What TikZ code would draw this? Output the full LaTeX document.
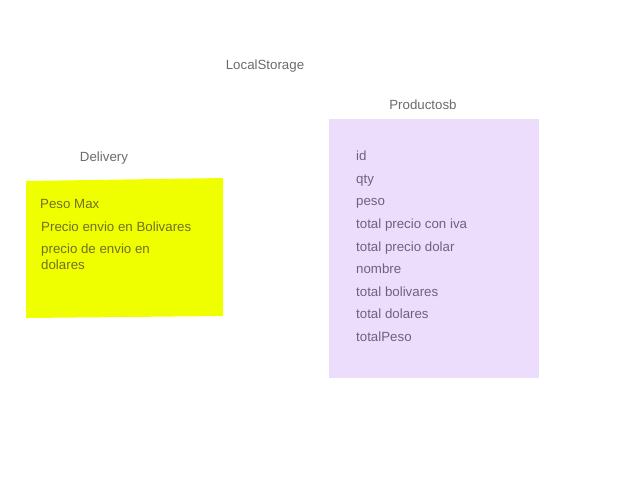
\documentclass[tikz,border=0pt]{standalone}
\usepackage{fontspec}
\setmainfont{Liberation Sans}
\definecolor{labelgray}{HTML}{6B6B6B}
\definecolor{stickyyellow}{HTML}{F0FF00}
\definecolor{stickytext}{HTML}{707022}
\definecolor{lilac}{HTML}{ECDDFC}
\definecolor{lilactext}{HTML}{6E6280}

\begin{document}
\begin{tikzpicture}[x=1pt, y=-1pt,
  title/.style = {labelgray, anchor=base, font=\fontsize{13.3}{16}\selectfont},
  yellowitem/.style = {stickytext, anchor=base west, align=left, font=\fontsize{13.3}{16}\selectfont},
  lilacitem/.style = {lilactext, anchor=base west, font=\fontsize{13.3}{16}\selectfont},
  every node/.style = {inner sep=0pt},
  ]
  \useasboundingbox (0,0) rectangle (640,480);
  \node[title] (local) at (265,69) {LocalStorage};
  \node[title] (delivery) at (104,161) {Delivery};
  \node[title] (productos) at (423,109) {Productosb};

  % delivery sticky
  \fill[stickyyellow] (26,181) -- (223,178) -- (223,316) -- (26,318) -- cycle;
  \node[yellowitem] (pesomax) at (40,208) {Peso Max};
  \node[yellowitem] (preciobs) at (41,231) {Precio envio en Bolivares};
  \node[yellowitem] (preciodol) at (41,269) {precio de envio en\\dolares};

  % productos sticky
  \fill[lilac] (329,119) rectangle (539,378);
  \foreach \name/\txt/\yy in {id/id/160, qty/qty/183, peso/peso/205,
      iva/total precio con iva/228, dolar/total precio dolar/251,
      nombre/nombre/273, bs/total bolivares/296, dolares/total dolares/318,
      totalpeso/totalPeso/341}
    \node[lilacitem] (\name) at (356,\yy) {\txt};
\end{tikzpicture}
\end{document}
